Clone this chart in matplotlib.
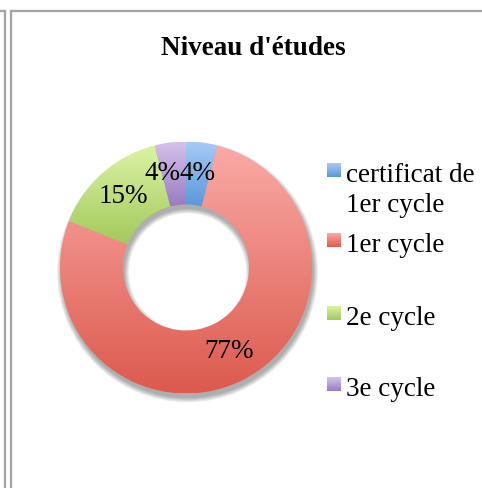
import numpy as np
import matplotlib
matplotlib.use("Agg")
import matplotlib.pyplot as plt
from matplotlib.colors import LinearSegmentedColormap
from matplotlib.lines import Line2D
from matplotlib.patches import Wedge

# donnees du graphique
titre = "Niveau d'études"
categories = ["certificat de\n1er cycle", "1er cycle", "2e cycle", "3e cycle"]
valeurs = [4, 77, 15, 4]
# couleurs (haut, bas) de chaque degrade
couleurs = [("#a9cbf6", "#5a98da"),
            ("#faaaa6", "#dc5a4e"),
            ("#dcf3a4", "#a3c95c"),
            ("#d6c2ea", "#9a7bc3")]

W, H = 482, 488
plt.rcParams['font.family'] = ['Liberation Serif', 'DejaVu Serif']

fig = plt.figure(figsize=(W / 100, H / 100), dpi=100)
fig.patch.set_facecolor("white")

# cadres gris (bord de la feuille)
def px(x, y):
  return x / W, 1 - y / H

gris = "#a3a3a3"
for (x0, y0), (x1, y1) in [((0, 10.5), (4.5, 10.5)), ((4.5, 10.5), (4.5, H)),
                           ((10.5, 10.5), (W, 10.5)), ((10.5, 10.5), (10.5, H))]:
  a, b = px(x0, y0)
  c, d = px(x1, y1)
  fig.add_artist(Line2D([a, c], [b, d], color=gris, lw=1.6, transform=fig.transFigure))

# titre
tx, ty = px(253, 55)
fig.text(tx, ty, titre, ha="center", va="baseline", fontsize=19.5, fontweight="bold")

# axe du donut
cx, cy, r = 186, 267.5, 126
ax = fig.add_axes([(cx - r) / W, (H - cy - r) / H, 2 * r / W, 2 * r / H])
ax.set_xlim(-1, 1)
ax.set_ylim(-1, 1)
ax.set_aspect("equal")
ax.axis("off")

largeur = 0.5

# ombre douce sous le donut
for k in range(7):
  e = 0.012 * k
  ombre = Wedge((0.012, -0.035), 1 + e * 0.5, 0, 360, width=largeur + e,
                facecolor="#000000", alpha=0.05, edgecolor="none", zorder=0)
  ombre.set_clip_on(False)
  ax.add_patch(ombre)

wedges, _ = ax.pie(valeurs, startangle=90, counterclock=False, radius=1,
                   wedgeprops=dict(width=largeur, edgecolor="none"))

grad = np.linspace(0, 1, 256).reshape(-1, 1)
for w, (haut, bas) in zip(wedges, couleurs):
  w.set_facecolor("none")
  ext = w.get_path().get_extents()
  cmap = LinearSegmentedColormap.from_list("g", [haut, bas])
  im = ax.imshow(grad, cmap=cmap, aspect="auto", origin="upper",
                 extent=[ext.x0, ext.x1, ext.y0, ext.y1], zorder=1)
  im.set_clip_path(w)

ax.set_xlim(-1, 1)
ax.set_ylim(-1, 1)

# etiquettes de pourcentage au milieu de l'anneau
decalages = [0.0, 0.0, 0.0, -0.09]
for w, v, dx in zip(wedges, valeurs, decalages):
  ang = np.deg2rad((w.theta1 + w.theta2) / 2)
  rr = 1 - largeur / 2
  ax.text(rr * np.cos(ang) + dx, rr * np.sin(ang), f"{v}%", ha="center",
          va="center", fontsize=19.5, zorder=3)

# legende
lignes_y = [182, 252, 325, 396]
interligne = 30
for (haut, bas), lab, yb in zip(couleurs, categories, lignes_y):
  sx, sy = px(327, yb - 5)
  cax = fig.add_axes([sx, sy, 14 / W, 14 / H])
  cmap = LinearSegmentedColormap.from_list("g", [haut, bas])
  cax.imshow(grad, cmap=cmap, aspect="auto")
  cax.axis("off")
  for i, ligne in enumerate(lab.split("\n")):
    lx, ly = px(346, yb + i * interligne)
    fig.text(lx, ly, ligne, ha="left", va="baseline", fontsize=19.5)

fig.savefig("out.png", dpi=100)
